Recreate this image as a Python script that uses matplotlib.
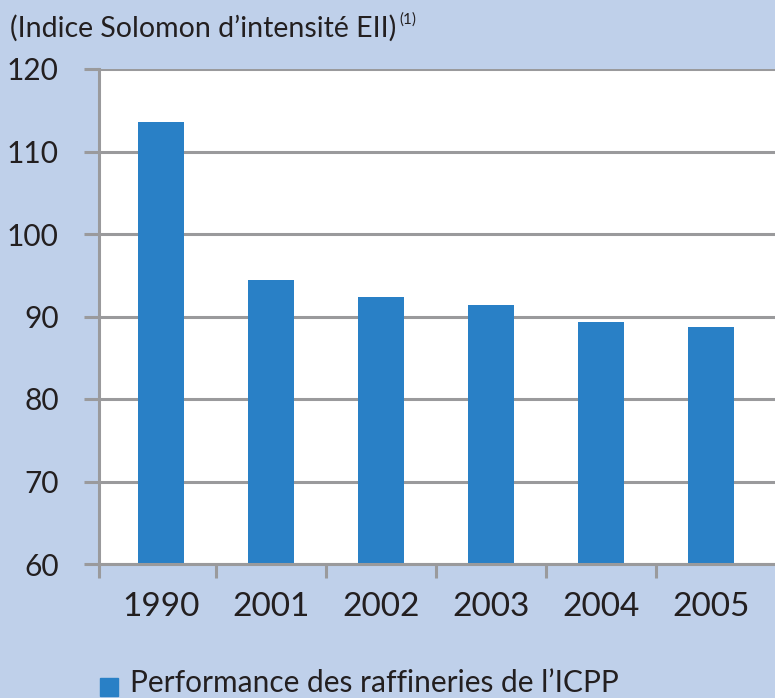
import matplotlib
matplotlib.use('Agg')
import matplotlib.pyplot as plt
from matplotlib.patches import Rectangle

# Data
years = ['1990', '2001', '2002', '2003', '2004', '2005']
eii_index = [113.6, 94.4, 92.4, 91.4, 89.3, 88.7]
y_ticks = [60, 70, 80, 90, 100, 110, 120]

bg_color = '#bfd0ea'
bar_color = '#2980c6'
grid_color = '#9a9a9c'
text_color = '#231f20'
font = 'Lato'

W, H = 775, 698
fig = plt.figure(figsize=(W / 100, H / 100), dpi=100, facecolor=bg_color)

# Plot area (pixel positions)
left_px, right_px, top_px, bottom_px = 99, 775, 69, 564
ax = fig.add_axes([left_px / W, 1 - bottom_px / H,
                   (right_px - left_px) / W, (bottom_px - top_px) / H])
ax.set_facecolor('white')

x = list(range(len(years)))
ax.bar(x, eii_index, width=0.42, color=bar_color, zorder=3, bottom=0)

ax.set_ylim(60, 120)
ax.set_xlim(-0.564, 5.58)
ax.set_yticks(y_ticks)
ax.set_yticklabels([str(t) for t in y_ticks], fontsize=21.5, family=font, color=text_color)
ax.yaxis.grid(True, color=grid_color, linewidth=2.2, zorder=1)

# category boundaries as x ticks, labels centered on bars
ax.set_xticks([i + 0.5 for i in x[:-1]] + [-0.564])
ax.set_xticklabels([])
ax.set_xticks(x, minor=True)
ax.set_xticklabels(years, minor=True, fontsize=24, family=font, color=text_color)
ax.tick_params(axis='x', which='major', length=10, width=2.2, color=grid_color, direction='out')
ax.tick_params(axis='x', which='minor', length=0, pad=20)
ax.tick_params(axis='y', length=11, width=2.2, color=grid_color, pad=18)

for side in ['top', 'right']:
    ax.spines[side].set_visible(False)
for side in ['left', 'bottom']:
    ax.spines[side].set_color(grid_color)
    ax.spines[side].set_linewidth(2.2)
    ax.spines[side].set_zorder(4)

# Title with superscript note
fig.text(10 / W, 1 - 28 / H, '(Indice Solomon d\u2019intensit\u00e9 EII)',
         fontsize=20.5, family=font, color=text_color, va='center', ha='left')
fig.text(399 / W, 1 - 20 / H, '(1)',
         fontsize=11, family=font, color=text_color, va='center', ha='left')

# Legend at the bottom edge
fig.patches.append(Rectangle((100 / W, 1 - 696 / H), 18 / W, 18 / H,
                             transform=fig.transFigure, color=bar_color))
fig.text(130 / W, 1 - 669 / H, 'Performance des raffineries de l\u2019ICPP',
         fontsize=21.5, family=font, color=text_color, va='top', ha='left')

fig.savefig('out.png', dpi=100, facecolor=bg_color)
